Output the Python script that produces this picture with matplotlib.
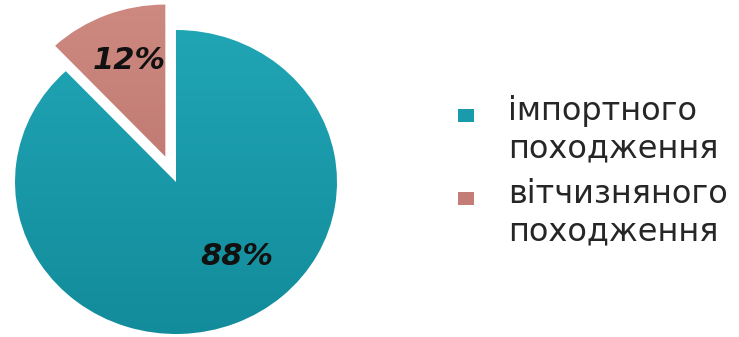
import numpy as np
import matplotlib
matplotlib.use("Agg")
import matplotlib.pyplot as plt
from matplotlib.colors import LinearSegmentedColormap
from matplotlib.patches import Rectangle

# data
labels = ["імпортного\nпоходження", "вітчизняного\nпоходження"]
shares = [88, 12]
colors = ["#1a9bab", "#c47d76"]
grad_light = ["#22a9b9", "#cf8b82"]
grad_dark = ["#128a99", "#b26a64"]

W, H = 739, 337
fig = plt.figure(figsize=(W / 100, H / 100), dpi=100)

# pie axes in pixel terms (picture is a bit stretched sideways)
cx, cy = 176, H - 182
rx, ry = 161, 152
ylo, yhi = -1.0, 1.2
ax = fig.add_axes([(cx - rx) / W, (cy + ylo * ry) / H, 2 * rx / W, (yhi - ylo) * ry / H])

wedges, texts, autotexts = ax.pie(
    shares, colors=colors, startangle=90, counterclock=False,
    explode=[0, 0.18], autopct="%.0f%%",
    wedgeprops=dict(edgecolor="white", linewidth=1.2),
)

# vertical gradient inside each wedge
grad = np.linspace(0, 1, 256).reshape(-1, 1)
for w, c0, c1 in zip(wedges, grad_dark, grad_light):
    cmap = LinearSegmentedColormap.from_list("g", [c0, c1])
    im = ax.imshow(grad, extent=(-1.3, 1.3, -1.1, 1.3), origin="lower",
                   cmap=cmap, aspect="auto", zorder=w.get_zorder() + 0.1)
    im.set_clip_path(w)

ax.set_aspect("auto")
ax.set_xlim(-1, 1)
ax.set_ylim(ylo, yhi)
ax.axis("off")

# percent labels
label_pos = [(0.38, -0.49), (-0.29, 0.80)]
for t, pos in zip(autotexts, label_pos):
    t.set_position(pos)
    t.set_fontsize(22)
    t.set_fontweight("bold")
    t.set_fontstyle("italic")
    t.set_family("DejaVu Sans")
    t.set_color("#111111")
    t.set_zorder(5)

# legend drawn by hand, one text per line
leg_y = [115, 198.5]      # square centres (px from top)
base_y = [[120, 157], [203, 240]]  # text baselines
for lab, c, y, bl in zip(labels, colors, leg_y, base_y):
    fig.patches.append(Rectangle(((466 - 8) / W, 1 - (y + 6.5) / H), 16 / W, 13 / H,
                                 transform=fig.transFigure, facecolor=c, edgecolor="none"))
    for line, b in zip(lab.split("\n"), bl):
        fig.text(508 / W, 1 - b / H, line, ha="left", va="baseline", fontsize=23,
                 family="DejaVu Sans", color="#262626")

fig.savefig("out.png", dpi=100)
